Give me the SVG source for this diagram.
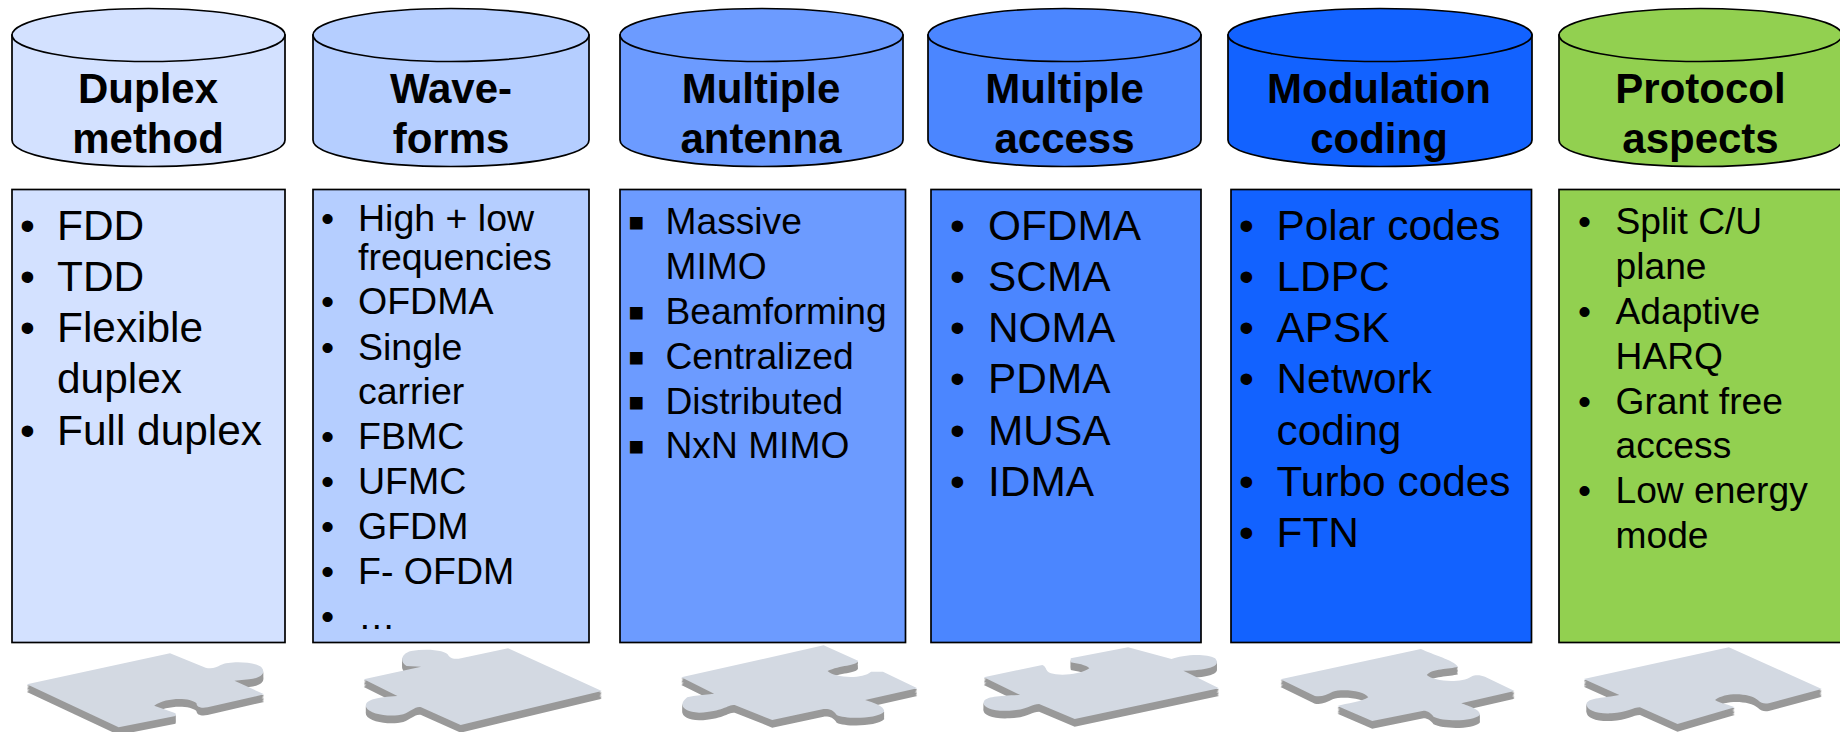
<svg xmlns="http://www.w3.org/2000/svg" width="1840" height="732" viewBox="0 0 1840 732">
<style>
text{font-family:"Liberation Sans",Arial,Helvetica,sans-serif;fill:#000}
.h{font-size:42px;font-weight:bold;text-anchor:middle}
.l{font-size:42.4px}
.m{font-size:37.5px}
.n{font-size:37.2px}
.q{font-size:26px}
.b{stroke:#000;stroke-width:1.7}
.top{fill:#d3d9e2}
.wall{fill:#999}
.c1{fill:#d3e1ff}.c2{fill:#b5ceff}.c3{fill:#6c9bff}.c4{fill:#4b86ff}.c5{fill:#1262ff}.c6{fill:#92d050}
</style>
<defs>
<path id="p1" d="M68,193 L430,100 L520,143 C535,147 548,143 558,135 C580,122 640,124 660,140 C675,160 660,175 630,178 L593,182 L668,223 L525,262 C510,266 497,262 497,250 C480,232 420,232 390,257 L444,280 L444,288 L300,322 Z"/>
<path id="p2" d="M920,178 L1065,140 L1028,138 C1010,125 1015,100 1040,93 C1080,85 1130,90 1135,108 C1140,116 1150,117 1160,116 L1285,85 L1522,213 L1165,315 L1065,262 C1050,258 1040,275 1020,283 C990,292 935,285 926,262 C920,240 950,232 1005,228 Z"/>
<path id="p3" d="M155,172 L515,76 L602,122 C600,138 555,135 525,153 C540,172 610,180 635,155 L665,155 L752,205 L620,240 C640,248 670,258 668,275 C650,297 570,298 548,285 C540,270 530,266 515,267 L385,300 L290,255 C270,255 260,275 200,278 C160,275 145,255 170,232 C190,225 215,225 238,221 Z"/>
<path id="p4" d="M920,172 L1068,135 C1080,140 1075,155 1090,160 C1110,168 1165,165 1187,145 C1180,135 1155,130 1140,127 L1140,115 L1285,82 L1395,117 C1420,105 1480,98 1505,115 C1520,135 1500,150 1425,152 L1515,205 L1150,297 L1060,252 C1040,252 1030,270 985,272 C940,275 915,260 920,245 C925,230 960,228 1012,225 Z"/>
<path id="p5" d="M153,178 L508,87 C540,105 590,120 602,140 C580,148 535,145 523,165 C540,185 610,190 635,170 C645,163 660,165 670,170 L745,213 L610,250 C630,258 660,270 657,285 C640,305 565,305 540,290 C535,280 525,272 515,272 L385,303 L297,258 C320,250 360,245 375,232 C365,212 310,205 285,215 C270,225 255,232 240,228 Z"/>
<path id="p6" d="M920,177 L1287,82 L1522,207 L1388,250 C1375,252 1370,250 1360,240 C1340,220 1280,215 1252,240 C1265,250 1290,255 1302,262 L1157,312 L1062,262 C1045,262 1030,278 990,280 C950,282 925,270 927,250 C935,232 970,235 1010,225 Z"/>
</defs>
<rect width="1840" height="732" fill="#fff"/>

<g id="col1">
<g id="head1"><path class="c1 b" d="M12,35 V140 C12,155 72,166.5 148.5,166.5 C225,166.5 285,155 285,140 V35 Z"/><ellipse class="c1 b" cx="148.5" cy="35" rx="136.5" ry="26.5"/>
<text class="h" x="148" y="103">Duplex</text><text class="h" x="148" y="153">method</text></g>
<g id="box1"><rect class="c1 b" x="12" y="189.5" width="273" height="453"/>
<g class="l"><text x="20" y="240">•</text><text x="57" y="240">FDD</text><text x="20" y="291">•</text><text x="57" y="291">TDD</text><text x="20" y="342">•</text><text x="57" y="342">Flexible</text><text x="57" y="393">duplex</text><text x="20" y="445">•</text><text x="57" y="445">Full duplex</text></g></g>
<g id="piece1" transform="translate(0,620) scale(.3954,.3333)"><use class="wall" href="#p1" y="4"/><use class="wall" href="#p1" y="8"/><use class="wall" href="#p1" y="12"/><use class="wall" href="#p1" y="16"/><use class="wall" href="#p1" y="20"/><use class="wall" href="#p1" y="23"/><use class="top" href="#p1"/></g>
</g>

<g id="col2">
<g id="head2"><path class="c2 b" d="M313,35 V140 C313,155 374,166.5 451,166.5 C528,166.5 589,155 589,140 V35 Z"/><ellipse class="c2 b" cx="451" cy="35" rx="138" ry="26.5"/>
<text class="h" x="451" y="103">Wave-</text><text class="h" x="451" y="153">forms</text></g>
<g id="box2"><rect class="c2 b" x="313" y="189.5" width="276" height="453"/>
<g class="m"><text x="321" y="231">•</text><text x="358" y="231">High + low</text><text x="358" y="270">frequencies</text><text x="321" y="314">•</text><text x="358" y="314">OFDMA</text><text x="321" y="360">•</text><text x="358" y="360">Single</text><text x="358" y="404">carrier</text><text x="321" y="449">•</text><text x="358" y="449">FBMC</text><text x="321" y="494">•</text><text x="358" y="494">UFMC</text><text x="321" y="539">•</text><text x="358" y="539">GFDM</text><text x="321" y="584">•</text><text x="358" y="584">F- OFDM</text><text x="321" y="629">•</text><text x="358" y="629">…</text></g></g>
<g id="piece2" transform="translate(0,620) scale(.3954,.3333)"><use class="wall" href="#p2" y="4"/><use class="wall" href="#p2" y="8"/><use class="wall" href="#p2" y="12"/><use class="wall" href="#p2" y="16"/><use class="wall" href="#p2" y="20"/><use class="wall" href="#p2" y="23"/><use class="top" href="#p2"/></g>
</g>

<g id="col3">
<g id="head3"><path class="c3 b" d="M620,35 V140 C620,155 685,166.5 761.5,166.5 C838,166.5 903,155 903,140 V35 Z"/><ellipse class="c3 b" cx="761.5" cy="35" rx="141.5" ry="26.5"/>
<text class="h" x="761" y="103">Multiple</text><text class="h" x="761" y="153">antenna</text></g>
<g id="box3"><rect class="c3 b" x="620" y="189.5" width="285.5" height="453"/>
<g class="n"><text class="q" x="628.5" y="231">■</text><text x="665.5" y="234">Massive</text><text x="665.5" y="279">MIMO</text><text class="q" x="628.5" y="321">■</text><text x="665.5" y="324">Beamforming</text><text class="q" x="628.5" y="366">■</text><text x="665.5" y="369">Centralized</text><text class="q" x="628.5" y="411">■</text><text x="665.5" y="414">Distributed</text><text class="q" x="628.5" y="455">■</text><text x="665.5" y="458">NxN MIMO</text></g></g>
<g id="piece3" transform="translate(620,620) scale(.3954,.3333)"><use class="wall" href="#p3" y="4"/><use class="wall" href="#p3" y="8"/><use class="wall" href="#p3" y="12"/><use class="wall" href="#p3" y="16"/><use class="wall" href="#p3" y="20"/><use class="wall" href="#p3" y="23"/><use class="top" href="#p3"/></g>
</g>

<g id="col4">
<g id="head4"><path class="c4 b" d="M928,35 V140 C928,155 988,166.5 1064.5,166.5 C1141,166.5 1201,155 1201,140 V35 Z"/><ellipse class="c4 b" cx="1064.5" cy="35" rx="136.5" ry="26.5"/>
<text class="h" x="1064.5" y="103">Multiple</text><text class="h" x="1064.5" y="153">access</text></g>
<g id="box4"><rect class="c4 b" x="931" y="189.5" width="270" height="453"/>
<g class="l"><text x="950" y="240">•</text><text x="988" y="240">OFDMA</text><text x="950" y="291">•</text><text x="988" y="291">SCMA</text><text x="950" y="342">•</text><text x="988" y="342">NOMA</text><text x="950" y="393">•</text><text x="988" y="393">PDMA</text><text x="950" y="445">•</text><text x="988" y="445">MUSA</text><text x="950" y="496">•</text><text x="988" y="496">IDMA</text></g></g>
<g id="piece4" transform="translate(620,620) scale(.3954,.3333)"><use class="wall" href="#p4" y="4"/><use class="wall" href="#p4" y="8"/><use class="wall" href="#p4" y="12"/><use class="wall" href="#p4" y="16"/><use class="wall" href="#p4" y="20"/><use class="wall" href="#p4" y="23"/><use class="top" href="#p4"/></g>
</g>

<g id="col5">
<g id="head5"><path class="c5 b" d="M1228,35 V140 C1228,155 1296,166.5 1380,166.5 C1464,166.5 1532,155 1532,140 V35 Z"/><ellipse class="c5 b" cx="1380" cy="35" rx="152" ry="26.5"/>
<text class="h" x="1379" y="103">Modulation</text><text class="h" x="1379" y="153">coding</text></g>
<g id="box5"><rect class="c5 b" x="1231" y="189.5" width="300.5" height="453"/>
<g class="l"><text x="1239" y="240">•</text><text x="1276.5" y="240">Polar codes</text><text x="1239" y="291">•</text><text x="1276.5" y="291">LDPC</text><text x="1239" y="342">•</text><text x="1276.5" y="342">APSK</text><text x="1239" y="393">•</text><text x="1276.5" y="393">Network</text><text x="1276.5" y="445">coding</text><text x="1239" y="496">•</text><text x="1276.5" y="496">Turbo codes</text><text x="1239" y="547">•</text><text x="1276.5" y="547">FTN</text></g></g>
<g id="piece5" transform="translate(1220,620) scale(.3954,.3333)"><use class="wall" href="#p5" y="4"/><use class="wall" href="#p5" y="8"/><use class="wall" href="#p5" y="12"/><use class="wall" href="#p5" y="16"/><use class="wall" href="#p5" y="20"/><use class="wall" href="#p5" y="23"/><use class="top" href="#p5"/></g>
</g>

<g id="col6">
<g id="head6"><path class="c6 b" d="M1559,35 V140 C1559,155 1622,166.5 1700.5,166.5 C1779,166.5 1842,155 1842,140 V35 Z"/><ellipse class="c6 b" cx="1700.5" cy="35" rx="141.5" ry="26.5"/>
<text class="h" x="1700.5" y="103">Protocol</text><text class="h" x="1700.5" y="153">aspects</text></g>
<g id="box6"><rect class="c6 b" x="1559" y="189.5" width="290" height="453"/>
<g class="n"><text x="1578" y="234">•</text><text x="1615.5" y="234">Split C/U</text><text x="1615.5" y="279">plane</text><text x="1578" y="324">•</text><text x="1615.5" y="324">Adaptive</text><text x="1615.5" y="369">HARQ</text><text x="1578" y="414">•</text><text x="1615.5" y="414">Grant free</text><text x="1615.5" y="458">access</text><text x="1578" y="503">•</text><text x="1615.5" y="503">Low energy</text><text x="1615.5" y="548">mode</text></g></g>
<g id="piece6" transform="translate(1220,620) scale(.3954,.3333)"><use class="wall" href="#p6" y="4"/><use class="wall" href="#p6" y="8"/><use class="wall" href="#p6" y="12"/><use class="wall" href="#p6" y="16"/><use class="wall" href="#p6" y="20"/><use class="wall" href="#p6" y="23"/><use class="top" href="#p6"/></g>
</g>
</svg>
